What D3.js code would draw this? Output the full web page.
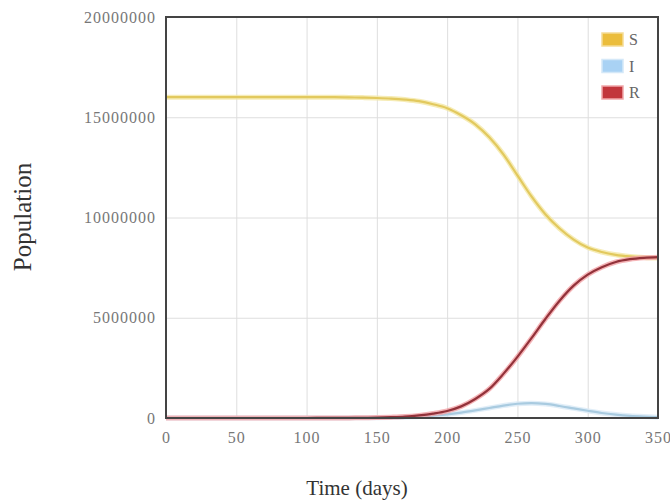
<!DOCTYPE html>
<html>
<head>
<meta charset="utf-8">
<script src="https://cdn.jsdelivr.net/npm/d3@7"></script>
<style>
  body { margin: 0; background: #fff; }
  svg { display: block; }
  text { font-family: "Liberation Serif", "DejaVu Serif", serif; }
</style>
</head>
<body>
<script>
// values, population in millions of persons
var days = [0, 10, 20, 30, 40, 50, 60, 70, 80, 90, 100, 110, 120, 130, 140, 150, 160, 170,
            180, 190, 200, 210, 220, 230, 240, 250, 260, 270, 280, 290, 300, 310, 320, 330, 340, 350];
var susceptible = [16.0, 16.0, 16.0, 16.0, 16.0, 16.0, 16.0, 16.0, 16.0, 16.0, 16.0, 16.0, 16.0, 15.99, 15.98, 15.96,
                   15.93, 15.88, 15.8, 15.65, 15.45, 15.1, 14.65, 14.0, 13.15, 12.1, 11.05, 10.15, 9.45, 8.9,
                   8.5, 8.28, 8.14, 8.06, 8.01, 7.98];
var infected = [0, 0, 0, 0, 0, 0, 0, 0, 0, 0, 0, 0.002, 0.004, 0.006, 0.01, 0.014, 0.02, 0.04, 0.07, 0.12,
                0.18, 0.27, 0.38, 0.5, 0.62, 0.71, 0.74, 0.7, 0.6, 0.48, 0.36, 0.25, 0.17, 0.11, 0.07, 0.04];
var recovered = [0, 0, 0, 0, 0, 0, 0, 0, 0, 0, 0, 0.002, 0.004, 0.006, 0.01, 0.02, 0.04, 0.07, 0.13, 0.22,
                 0.35, 0.58, 0.95, 1.45, 2.2, 3.05, 3.98, 4.95, 5.85, 6.6, 7.15, 7.52, 7.78, 7.92, 7.99, 8.02];
var xTicks = [0, 50, 100, 150, 200, 250, 300, 350];
var yTicks = [0, 5000000, 10000000, 15000000, 20000000];
var seriesNames = ["S", "I", "R"];

var width = 670, height = 504;
var margin = {top: 17, right: 12, bottom: 86, left: 166};

var series = [
  {name: "S", values: susceptible, core: "#e2c95e", halo: "#f4e7a4", swatch: "#ebbd3c", edge: "#f5dc96"},
  {name: "I", values: infected,    core: "#a9cbe0", halo: "#d9eaf6", swatch: "#a9d2f4", edge: "#d4e8f8"},
  {name: "R", values: recovered,   core: "#93323a", halo: "#f2a3a6", swatch: "#c2363c", edge: "#f1a8aa"}
];

var svg = d3.select("body").append("svg")
    .attr("width", width)
    .attr("height", height);

var x = d3.scaleLinear().domain([0, 350]).range([margin.left, width - margin.right]);
var y = d3.scaleLinear().domain([0, 20000000]).range([height - margin.bottom, margin.top]);

// grid
svg.append("g")
    .attr("transform", "translate(0," + (height - margin.bottom) + ")")
    .call(d3.axisBottom(x).tickValues(xTicks).tickSize(-(height - margin.bottom - margin.top)).tickFormat(""))
    .call(function (g) { g.select(".domain").remove(); })
    .selectAll("line").attr("stroke", "#dedede");

svg.append("g")
    .attr("transform", "translate(" + margin.left + ",0)")
    .call(d3.axisLeft(y).tickValues(yTicks).tickSize(-(width - margin.left - margin.right)).tickFormat(""))
    .call(function (g) { g.select(".domain").remove(); })
    .selectAll("line").attr("stroke", "#dedede");

// tick labels
var xAxis = svg.append("g")
    .attr("transform", "translate(0," + (height - margin.bottom) + ")")
    .call(d3.axisBottom(x).tickValues(xTicks).tickSize(0).tickPadding(14).tickFormat(d3.format("d")));
xAxis.select(".domain").remove();
xAxis.selectAll("text")
    .attr("fill", "#777")
    .style("font-size", "16px")
    .style("letter-spacing", "1px");

var yAxis = svg.append("g")
    .attr("transform", "translate(" + margin.left + ",0)")
    .call(d3.axisLeft(y).tickValues(yTicks).tickSize(0).tickPadding(10).tickFormat(d3.format("d")));
yAxis.select(".domain").remove();
yAxis.selectAll("text")
    .attr("fill", "#777")
    .style("font-size", "16px")
    .style("letter-spacing", "1px");

// curves
var line = d3.line()
    .x(function (d, i) { return x(days[i]); })
    .y(function (d) { return y(d * 1000000); })
    .curve(d3.curveMonotoneX);

var curves = svg.append("g");
series.forEach(function (s) {
  curves.append("path")
      .attr("d", line(s.values))
      .attr("fill", "none")
      .attr("stroke", s.halo)
      .attr("stroke-width", 5)
      .attr("stroke-opacity", 0.8);
  curves.append("path")
      .attr("d", line(s.values))
      .attr("fill", "none")
      .attr("stroke", s.core)
      .attr("stroke-width", 2.2);
});

// frame
svg.append("rect")
    .attr("x", margin.left)
    .attr("y", margin.top)
    .attr("width", width - margin.left - margin.right)
    .attr("height", height - margin.top - margin.bottom)
    .attr("fill", "none")
    .attr("stroke", "#444")
    .attr("stroke-width", 2);

// legend
var legend = svg.append("g").attr("transform", "translate(602,33)");
var rows = legend.selectAll("g")
    .data(series)
    .enter().append("g")
    .attr("transform", function (d, i) { return "translate(0," + (i * 26.5) + ")"; });
rows.append("rect")
    .attr("width", 21)
    .attr("height", 13)
    .attr("fill", function (d) { return d.swatch; })
    .attr("stroke", function (d) { return d.edge; })
    .attr("stroke-width", 1.5);
rows.append("text")
    .attr("x", 27)
    .attr("y", 12)
    .attr("fill", "#666")
    .style("font-size", "16px")
    .text(function (d, i) { return seriesNames[i]; });

// axis titles
svg.append("text")
    .attr("transform", "translate(31,217) rotate(-90)")
    .attr("text-anchor", "middle")
    .attr("fill", "#333")
    .style("font-size", "25px")
    .text("Population");

svg.append("text")
    .attr("x", 357)
    .attr("y", 495)
    .attr("text-anchor", "middle")
    .attr("fill", "#333")
    .style("font-size", "21px")
    .text("Time (days)");
</script>
</body>
</html>
